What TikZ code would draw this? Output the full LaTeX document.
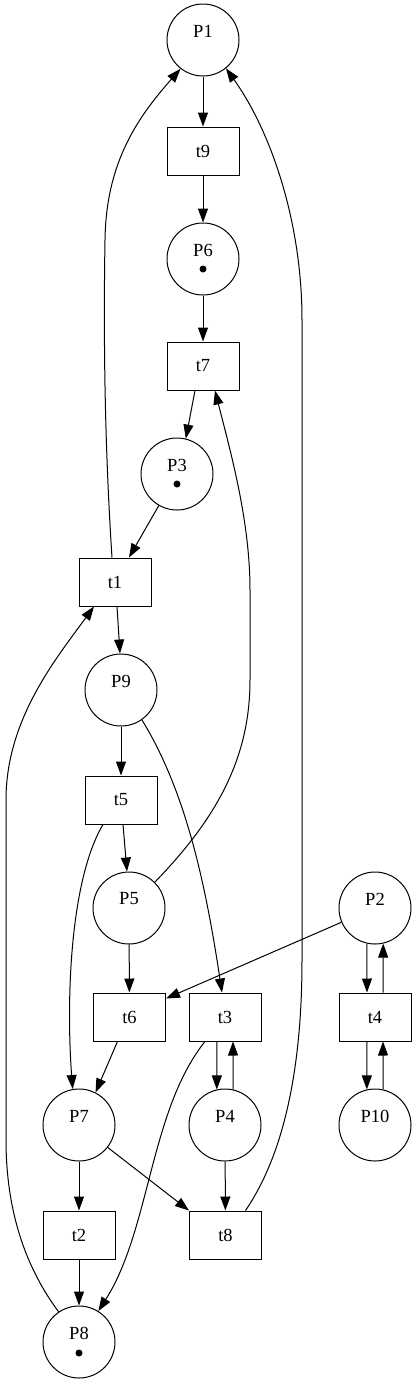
\documentclass[tikz,border=0pt]{standalone}
\usepackage{fontspec}
\setmainfont{Liberation Serif}
\usetikzlibrary{arrows.meta,calc}
\begin{document}
\begin{tikzpicture}[x=1pt,y=-1pt,
 place/.style={circle,draw,line width=1pt,minimum size=72pt,inner sep=0pt},
 trans/.style={rectangle,draw,line width=1pt,minimum width=72pt,minimum height=48pt,inner sep=0pt,font=\fontsize{18.5}{20}\selectfont},
 lbl/.style={inner sep=0pt,font=\fontsize{18.5}{20}\selectfont},
 token/.style={circle,fill,minimum size=7pt,inner sep=0pt},
 arc/.style={line width=1pt,-{Triangle[length=14pt,width=10pt]}}]
\useasboundingbox (0,0) rectangle (416,1384);
% places
\node[place] (P1) at (203,40) {};
\node[place] (P6) at (203,259) {};
\node[place] (P3) at (177,474) {};
\node[place] (P9) at (121,690) {};
\node[place] (P5) at (129,908) {};
\node[place] (P2) at (375,908) {};
\node[place] (P7) at (79,1125) {};
\node[place] (P4) at (225,1125) {};
\node[place] (P10) at (375,1125) {};
\node[place] (P8) at (79,1342) {};
% place labels
\foreach \p in {P1,P6,P3,P9,P5,P2,P7,P4,P10,P8}
  \node[lbl] (\p l) at ($(\p)+(0,-9)$) {\p};
% tokens
\node[token] (P6k) at ($(P6)+(0,10)$) {};
\node[token] (P3k) at ($(P3)+(0,10)$) {};
\node[token] (P8k) at ($(P8)+(0,11)$) {};
% transitions
\node[trans] (t9) at (203,151) {t9};
\node[trans] (t7) at (203,366) {t7};
\node[trans] (t1) at (115,582) {t1};
\node[trans] (t5) at (121,800) {t5};
\node[trans] (t6) at (129.5,1017) {t6};
\node[trans] (t3) at (225,1017) {t3};
\node[trans] (t4) at (375,1017) {t4};
\node[trans] (t2) at (79,1235) {t2};
\node[trans] (t8) at (225.5,1235) {t8};
% arcs
\draw[arc] (P1) -- (t9);
\draw[arc] (t9) -- (P6);
\draw[arc] (P6) -- (t7);
\draw[arc] ([xshift=-8pt]t7.south) -- (P3.76);
\draw[arc] (P3.240) -- ([xshift=14pt]t1.north);
\draw[arc] ([xshift=-3pt]t1.north) .. controls (103,420) and (104,300) .. (105,240)
   .. controls (106,160) and (140,115) .. (P1.232);
\draw[arc] ([xshift=2pt]t1.south) -- ([xshift=-1pt]P9.north);
\draw[arc] (P8.124) .. controls (20,1260) and (6,1200) .. (6,1140) -- (6,800)
   .. controls (6,720) and (55,660) .. ([xshift=-21pt]t1.south);
\draw[arc] (P9) -- (t5);
\draw[arc] (P9.-55) .. controls (185,790) and (205,880) .. ([xshift=-3pt]t3.north);
\draw[arc] ([xshift=2pt]t5.south) -- ([xshift=-2pt]P5.north);
\draw[arc] ([xshift=-18pt]t5.south) .. controls (70,880) and (66,1000) .. (P7.100);
\draw[arc] (P5.45) .. controls (215,820) and (250,760) .. (250,680) -- (250,590)
   .. controls (250,520) and (230,450) .. ([xshift=12pt]t7.south);
\draw[arc] (P5) -- (t6);
\draw[arc] (P2.203) -- ([yshift=-6pt]t6.north east);
\draw[arc] ([xshift=-12pt]t6.south) -- (P7.63);
\draw[arc] ([xshift=-8pt]t3.south) -- (P4.103);
\draw[arc] (P4.77) -- ([xshift=8pt]t3.south);
\draw[arc] ([xshift=-20pt]t3.south) .. controls (150,1110) and (150,1230) .. (P8.58);
\draw[arc] (P7.-38) -- (t8.north west);
\draw[arc] (P4) -- (t8);
\draw[arc] ([xshift=20pt]t8.north) .. controls (280,1160) and (302,1080) .. (302,960)
   -- (302,320) .. controls (302,220) and (270,130) .. (P1.-51);
\draw[arc] (P2.257) -- ([xshift=-8pt]t4.north);
\draw[arc] ([xshift=8pt]t4.north) -- (P2.283);
\draw[arc] ([xshift=-8pt]t4.south) -- (P10.103);
\draw[arc] (P10.77) -- ([xshift=8pt]t4.south);
\draw[arc] (P7) -- (t2);
\draw[arc] (t2) -- (P8);
\end{tikzpicture}
\end{document}
